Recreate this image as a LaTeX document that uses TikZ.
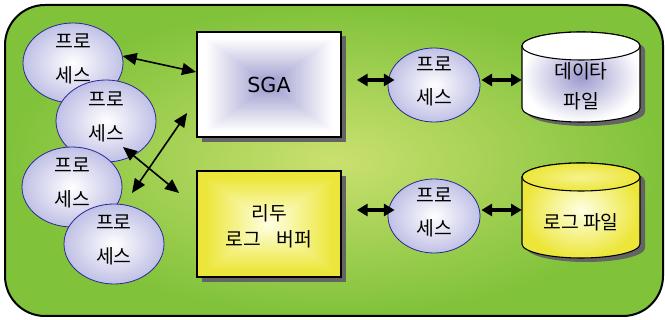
\documentclass[tikz,border=0pt]{standalone}
\usepackage{fontspec}
\setmainfont{Noto Sans CJK KR}
\newfontfamily\latfont{DejaVu Sans}
\usetikzlibrary{arrows.meta,shadows,calc,shapes.geometric}
\definecolor{gIn}{RGB}{202,224,112}
\definecolor{gOut}{RGB}{128,194,58}
\definecolor{lav}{RGB}{156,154,206}
\definecolor{elav}{RGB}{192,192,230}
\definecolor{eblue}{RGB}{40,40,150}
\definecolor{yel}{RGB}{236,230,58}
\definecolor{ylight}{RGB}{255,255,228}
\definecolor{shad}{RGB}{100,100,100}
\pgfdeclarefunctionalshading{pyrlav}{\pgfpoint{-50bp}{-50bp}}{\pgfpoint{50bp}{50bp}}{}{
  abs exch abs 2 copy lt {exch} if pop 22 div dup 1 gt {pop 1} if
  dup 0.388 mul 0.612 add exch dup 0.396 mul 0.604 add exch 0.192 mul 0.808 add }
\pgfdeclarefunctionalshading{pyryel}{\pgfpoint{-50bp}{-50bp}}{\pgfpoint{50bp}{50bp}}{}{
  abs exch abs 2 copy lt {exch} if pop 22 div dup 1 gt {pop 1} if
  dup -0.075 mul 1 add exch dup -0.098 mul 1 add exch -0.667 mul 0.894 add }
\tikzset{
  ktext/.style={font=\fontsize{14.5}{25}\selectfont, align=center, inner sep=0pt},
  proc/.style={ellipse, draw=eblue, line width=0.6pt, inner color=white, outer color=elav,
    minimum width=75pt, minimum height=60pt, inner sep=0pt},
  rproc/.style={proc, minimum width=69pt, minimum height=55.5pt},
  membox/.style={rectangle, draw=black, line width=1.4pt, minimum width=108pt, minimum height=79pt,
    drop shadow={shadow xshift=3.5pt, shadow yshift=-3.5pt, fill=shad, opacity=1}},
  thinarr/.style={{Triangle[length=10.5pt,width=9pt]}-{Triangle[length=10.5pt,width=9pt]}, line width=1.2pt},
  thickarr/.style={{Triangle[length=8pt,width=9pt]}-{Triangle[length=8pt,width=9pt]}, line width=3pt},
  cylbox/.style={rectangle, minimum width=88.5pt, inner sep=0pt}
}
\begin{document}
\begin{tikzpicture}[x=0.75pt,y=0.75pt]
\useasboundingbox (0,0) rectangle (665,320);
% background panel
\draw[line width=1.5pt, rounded corners=30pt, inner color=gIn, outer color=gOut] (5,4) rectangle (663,315);

% memory boxes
\node[membox, shading=pyrlav, font=\latfont\fontsize{15.5}{18}\selectfont] (sga) at (269,235.5) {SGA};
\node[membox, shading=pyryel, minimum height=79.5pt] (redo) at (269,96) {};
\node[ktext, font=\fontsize{14.5}{19.5}\selectfont] (redotxt) at (269,94) {리두\\로그\hspace{0.8em}버퍼};

% left processes
\node[proc, label={[ktext,yshift=3pt]center:{프로\\세스}}] (e1) at (73,257) {};
\node[proc, minimum height=61.5pt, label={[ktext,yshift=3pt]center:{프로\\세스}}] (e2) at (106,199) {};
\node[proc, label={[ktext,yshift=3pt]center:{프로\\세스}}] (e3) at (72,133) {};
\node[proc, label={[ktext,yshift=3pt]center:{프로\\세스}}] (e4) at (114,76) {};

% right processes
\node[rproc, label={[ktext,yshift=2.5pt]center:{프로\\세스}}] (e5) at (434,235) {};
\node[rproc, label={[ktext,yshift=2.5pt]center:{프로\\세스}}] (e6) at (434,104) {};

% data file cylinder
\fill[shad] (527,270) -- (527,208) arc[start angle=180,end angle=360,x radius=44.25pt,y radius=10.5pt] -- (645,270) arc[start angle=0,end angle=180,x radius=44.25pt,y radius=10.5pt] -- cycle;
\draw[line width=0.8pt, inner color=lav, outer color=white] (522,274) -- (522,212) arc[start angle=180,end angle=360,x radius=44.25pt,y radius=10.5pt] -- (640,274) arc[start angle=0,end angle=180,x radius=44.25pt,y radius=10.5pt] -- cycle;
\draw[line width=0.8pt, fill=white] (581,274) ellipse[x radius=44.25pt,y radius=10.5pt];
\node[cylbox, ktext, font=\fontsize{14.5}{22.5}\selectfont] (data) at (581,234) {데이타\\파일};

% log file cylinder
\fill[shad] (527,139) -- (527,72) arc[start angle=180,end angle=360,x radius=44.25pt,y radius=10.5pt] -- (645,139) arc[start angle=0,end angle=180,x radius=44.25pt,y radius=10.5pt] -- cycle;
\draw[line width=0.8pt, inner color=ylight, outer color=yel] (522,143) -- (522,76) arc[start angle=180,end angle=360,x radius=44.25pt,y radius=10.5pt] -- (640,143) arc[start angle=0,end angle=180,x radius=44.25pt,y radius=10.5pt] -- cycle;
\draw[line width=0.8pt, inner color=ylight!50!yel, outer color=yel] (581,143) ellipse[x radius=44.25pt,y radius=10.5pt];
\node[cylbox, ktext] (log) at (581,98) {로그 파일};

% left connectors
\draw[thinarr] (e1.8) -- ($(sga.west)+(0,12.5)$);
\draw[thinarr] ($(e3.center)+(60,-6)$) -- ($(sga.west)+(-9,-28.5)$);
\draw[thinarr] ($(e2.center)+(17,-26)$) -- ($(redo.west)+(-17,31)$);

% right connectors
\draw[thickarr] ($(sga.east)+(15,4.5)$) -- ($(e5.west)+(7,5)$);
\draw[thickarr] ($(e5.east)+(1,5)$) -- ($(data.west)+(0,6)$);
\draw[thickarr] ($(redo.east)+(15,14)$) -- ($(e6.west)+(7,6)$);
\draw[thickarr] ($(e6.east)+(1,6)$) -- ($(log.west)+(0,12)$);
\end{tikzpicture}
\end{document}
